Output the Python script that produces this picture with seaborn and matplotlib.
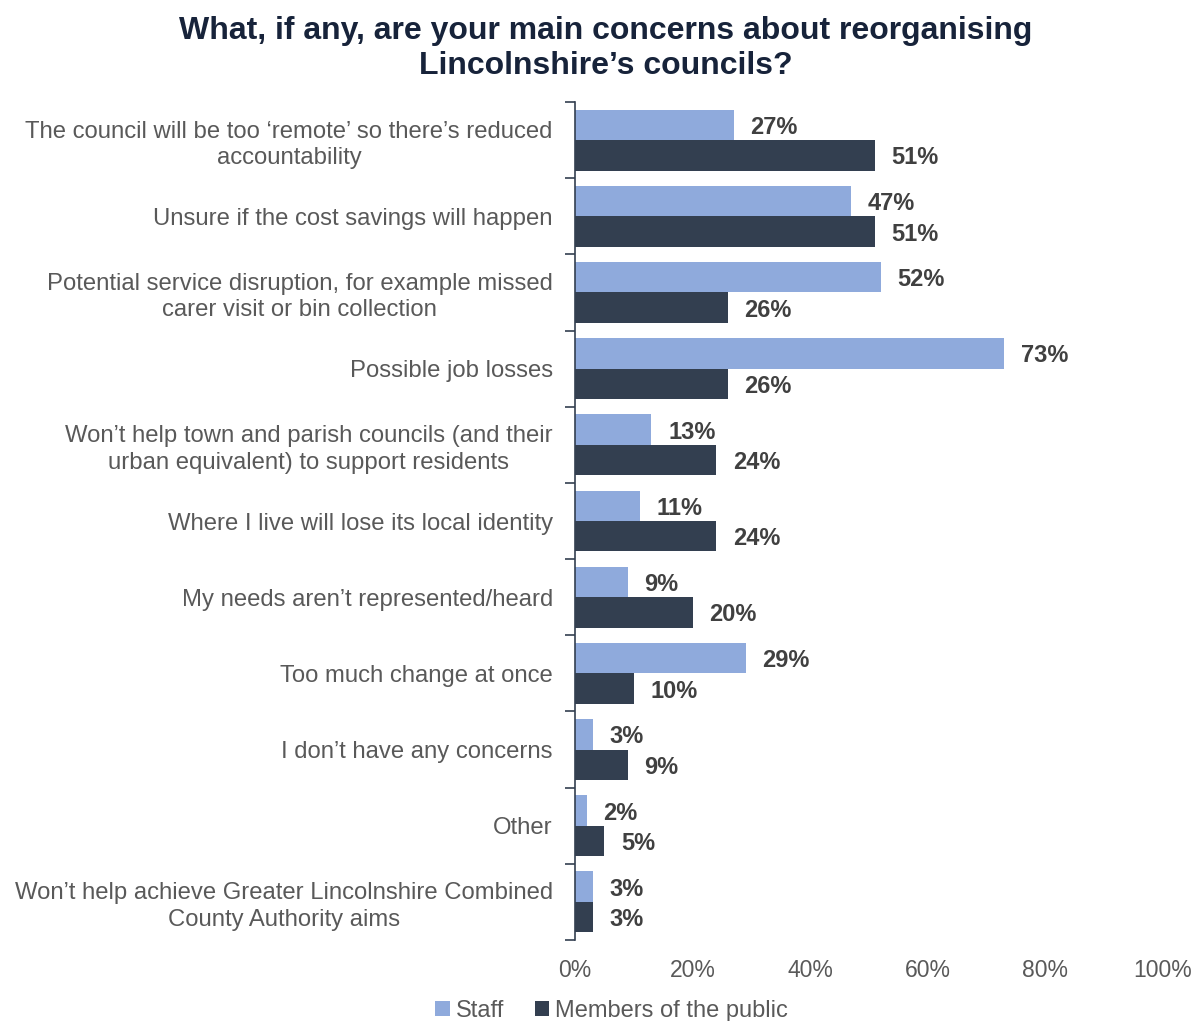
import matplotlib
matplotlib.use("Agg")
import matplotlib.pyplot as plt
import seaborn as sns
import pandas as pd
import numpy as np

categories = [
    "The council will be too \u2018remote\u2019 so there\u2019s reduced\naccountability",
    "Unsure if the cost savings will happen",
    "Potential service disruption, for example missed\ncarer visit or bin collection",
    "Possible job losses",
    "Won\u2019t help town and parish councils (and their\nurban equivalent) to support residents",
    "Where I live will lose its local identity",
    "My needs aren\u2019t represented/heard",
    "Too much change at once",
    "I don\u2019t have any concerns",
    "Other",
    "Won\u2019t help achieve Greater Lincolnshire Combined\nCounty Authority aims",
]
staff = [27, 47, 52, 73, 13, 11, 9, 29, 3, 2, 3]
public = [51, 51, 26, 26, 24, 24, 20, 10, 9, 5, 3]
series = ["Staff", "Members of the public"]
x_ticks = [0, 20, 40, 60, 80, 100]

df = pd.DataFrame({
    "category": categories * 2,
    "group": [series[0]] * len(categories) + [series[1]] * len(categories),
    "value": staff + public,
})

sns.set_style("white")
plt.rcParams["font.family"] = ["Liberation Sans", "DejaVu Sans"]

fig = plt.figure(figsize=(11.92, 10.21), dpi=100)
ax = fig.add_axes([0.4824, 0.0793, 0.4933, 0.8208])

palette = {series[0]: "#8FAADC", series[1]: "#333F50"}
sns.barplot(data=df, y="category", x="value", hue="group", order=categories,
            hue_order=series, palette=palette, orient="h", width=0.8,
            saturation=1, linewidth=0, ax=ax, legend=True)

for container in ax.containers:
    for bar in container:
        w = bar.get_width()
        ax.annotate(f"{w:.0f}%", (w, bar.get_y() + bar.get_height() / 2),
                    xytext=(12, 0), textcoords="offset points",
                    ha="left", va="center_baseline", fontsize=17,
                    fontweight="bold", color="#404040")

ax.set_xlim(0, 100)
ax.set_ylim(len(categories) - 0.5, -0.5)
ax.set_xticks(x_ticks)
ax.set_xticklabels([f"{t}%" for t in x_ticks])
ax.set_xlabel("")
ax.set_ylabel("")

for s in ["top", "right", "bottom"]:
    ax.spines[s].set_visible(False)
ax.spines["left"].set_color("#333F50")
ax.spines["left"].set_linewidth(1.2)

ax.tick_params(axis="x", length=0, labelsize=16.5, labelcolor="#595959", pad=14)
ax.tick_params(axis="y", which="major", left=False, length=0, labelsize=17.2,
               labelcolor="#595959", pad=16)
ax.set_yticks(np.arange(-0.5, len(categories), 1.0), minor=True)
ax.tick_params(axis="y", which="minor", left=True, length=7, width=1.2,
               color="#333F50", direction="out")
for lbl in ax.get_yticklabels():
    lbl.set_multialignment("center")
    lbl.set_linespacing(1.25)

handles, labels = ax.get_legend_handles_labels()
ax.get_legend().remove()
leg = fig.legend(handles, labels, loc="center", bbox_to_anchor=(0.513, 0.010),
                 ncol=2, frameon=False, fontsize=17, handlelength=0.6,
                 handleheight=0.6, columnspacing=1.3, handletextpad=0.25,
                 borderpad=0)
for t in leg.get_texts():
    t.set_color("#595959")

fig.suptitle("What, if any, are your main concerns about reorganising\nLincolnshire\u2019s councils?",
             x=0.508, y=0.984, fontsize=23, fontweight="bold", color="#17233A",
             linespacing=1.2)

fig.savefig("out.png", dpi=100)
